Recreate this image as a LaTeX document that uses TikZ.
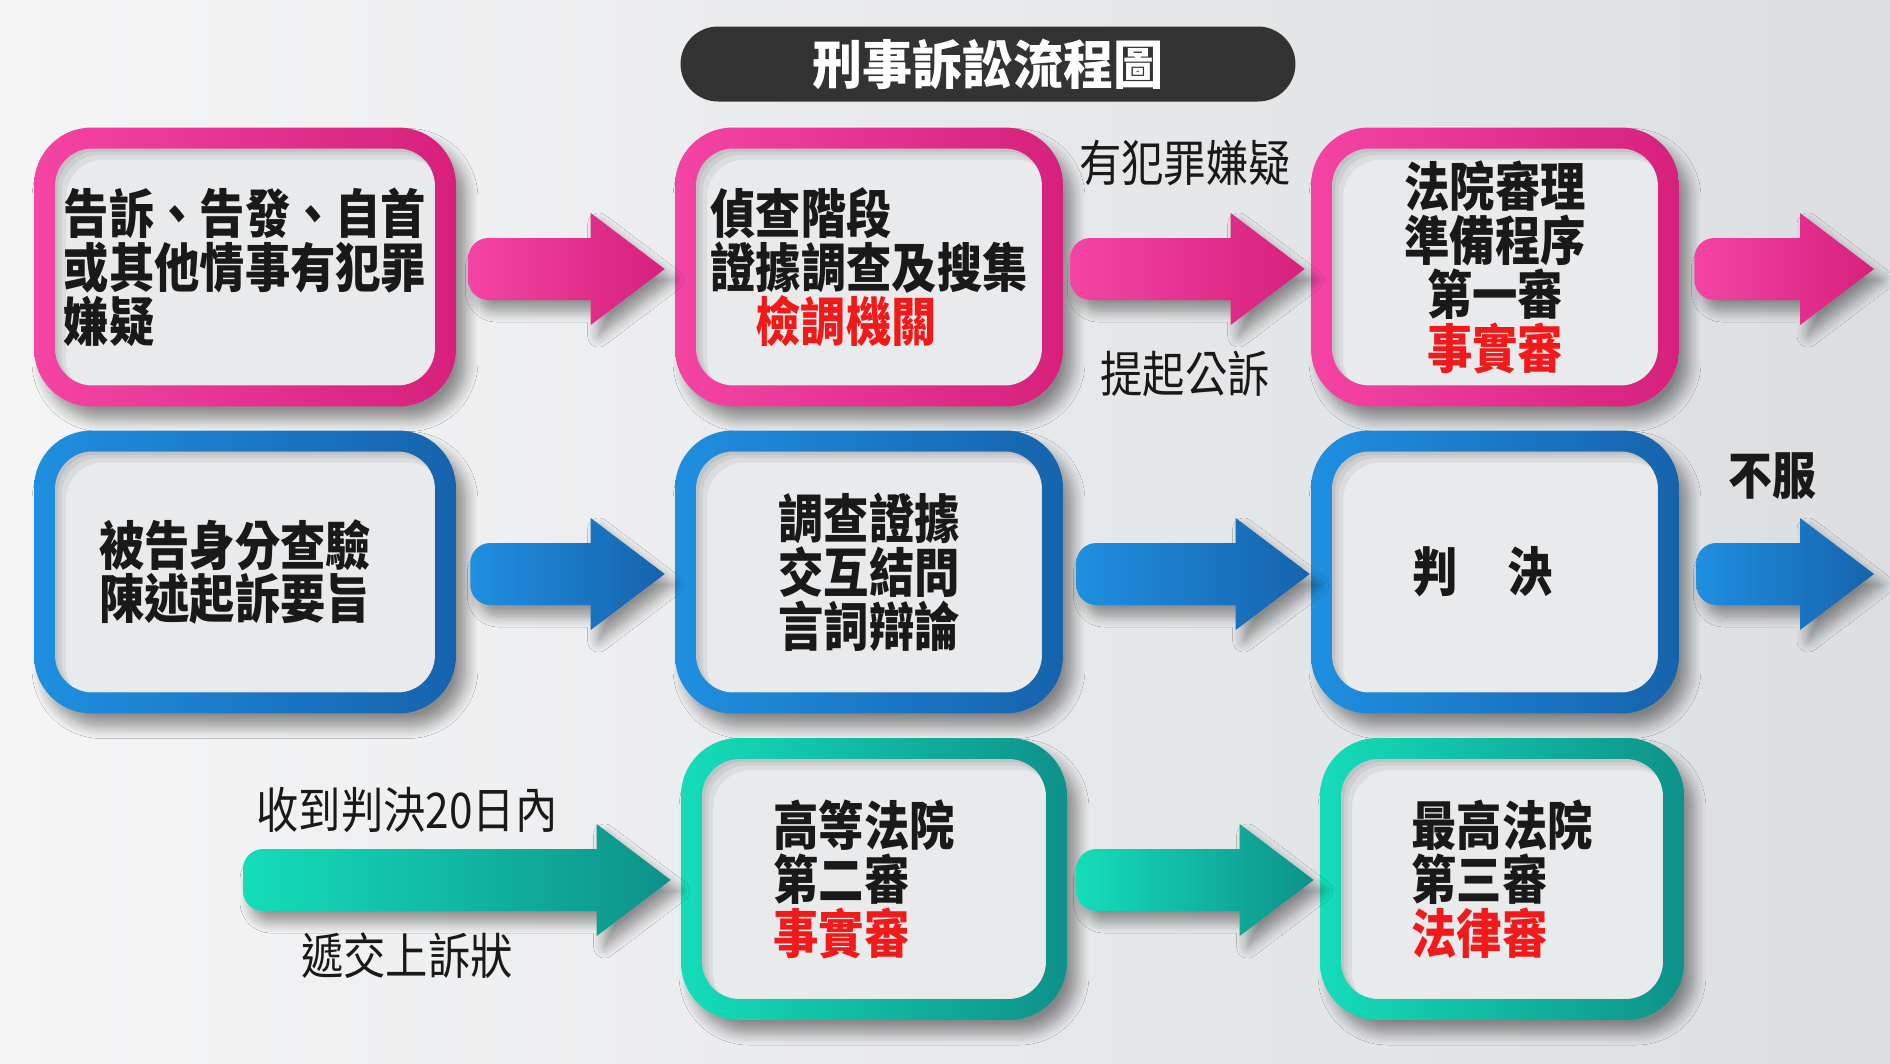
\documentclass[tikz,border=0pt]{standalone}
\usepackage{fontspec}
\newfontfamily\cjk{Noto Sans CJK TC}[FakeStretch=0.86]
\newfontfamily\cjktitle{Noto Sans CJK TC}[FakeStretch=0.95]
\usetikzlibrary{calc,shadows.blur}
\definecolor{bgA}{HTML}{F5F5F6}
\definecolor{bgB}{HTML}{DCDEE0}
\definecolor{pinkL}{HTML}{F444A4}
\definecolor{pinkR}{HTML}{D6207C}
\definecolor{blueL}{HTML}{1F8FE0}
\definecolor{blueR}{HTML}{1663AC}
\definecolor{tealL}{HTML}{14DDB9}
\definecolor{tealR}{HTML}{0E918A}
\definecolor{innerc}{HTML}{E9EAEC}
\definecolor{titlebg}{HTML}{333333}
\definecolor{hl}{HTML}{F01A1A}
\newcommand\blockarrow[4]{%
  \shade[left color=#3, right color=#4, arrowshadow]
    ($(#1)+(0.4cm,0.62cm)$) -- ($(#2)+(-1.48cm,0.62cm)$) -- ($(#2)+(-1.48cm,1.12cm)$)
    -- (#2) -- ($(#2)+(-1.48cm,-1.12cm)$) -- ($(#2)+(-1.48cm,-0.62cm)$)
    -- ($(#1)+(0.4cm,-0.62cm)$) arc[start angle=270, end angle=180, radius=0.4cm]
    -- ($(#1)+(0,0.22cm)$) arc[start angle=180, end angle=90, radius=0.4cm] -- cycle;}
\begin{document}
\begin{tikzpicture}[x=0.02cm,y=-0.02cm,
  arrowshadow/.style={blur shadow={shadow xshift=0.16cm, shadow yshift=-0.22cm, shadow blur radius=0.22cm, shadow blur steps=10, shadow opacity=40}},
  boxbase/.style={rounded corners=1.15cm, inner sep=0pt,
    font=\cjk\bfseries\fontsize{30}{30.7}\selectfont, text=black!90,
    blur shadow={shadow xshift=0.2cm, shadow yshift=-0.26cm, shadow blur radius=0.24cm, shadow blur steps=10, shadow opacity=42},
    path picture={
      \coordinate (ppsw) at ($(path picture bounding box.south west)+(0.42cm,0.42cm)$);
      \coordinate (ppne) at ($(path picture bounding box.north east)+(-0.42cm,-0.42cm)$);
      \fill[innerc, rounded corners=0.75cm] (ppsw) rectangle (ppne);
      \begin{scope}
        \clip[rounded corners=0.75cm] (ppsw) rectangle (ppne);
        \foreach \d in {0.06,0.13,0.22}{
          \fill[black, opacity=0.06, even odd rule, rounded corners=0.75cm]
            (ppsw) rectangle (ppne)
            ($(ppsw)+(\d cm,-\d cm)$) rectangle ($(ppne)+(\d cm,-\d cm)$);}
      \end{scope}}},
  pinkbox/.style={boxbase, left color=pinkL, right color=pinkR},
  bluebox/.style={boxbase, left color=blueL, right color=blueR},
  tealbox/.style={boxbase, left color=tealL, right color=tealR},
  lbl/.style={font=\cjk\fontsize{28}{30}\selectfont, text=black!90, inner sep=0pt},
  lblb/.style={font=\cjk\bfseries\fontsize{29}{30}\selectfont, text=black!90, inner sep=0pt}
]
\useasboundingbox (0,0) rectangle (1890,1063);
\shade[left color=bgA, right color=bgB] (0,0) rectangle (1890,1063);

% title
\node[fill=titlebg, rounded corners=0.75cm, minimum width=12.3cm, minimum height=1.5cm,
  text=white, font=\cjktitle\bfseries\fontsize{30}{30}\selectfont, inner sep=0pt] (title) at (988,64) {刑事訴訟流程圖};

% boxes
\node[pinkbox, minimum width=8.44cm, minimum height=5.58cm, align=left] (b1) at (245,267) {告訴、告發、自首\\或其他情事有犯罪\\嫌疑};
\node[pinkbox, minimum width=7.76cm, minimum height=5.58cm, align=left] (b2) at (869,267) {偵查階段\\證據調查及搜集\\\hspace*{0.9cm}\textcolor{hl}{檢調機關}};
\node[pinkbox, minimum width=7.36cm, minimum height=5.58cm, align=center] (b3) at (1495,267) {法院審理\\準備程序\\第一審\\\textcolor{hl}{事實審}};
\node[bluebox, minimum width=8.44cm, minimum height=5.66cm, align=left] (b4) at (245,572) {被告身分查驗\hspace*{0.4cm}\\陳述起訴要旨};
\node[bluebox, minimum width=7.76cm, minimum height=5.66cm, align=left] (b5) at (869,572) {調查證據\\交互結問\\言詞辯論};
\node[bluebox, minimum width=7.36cm, minimum height=5.66cm] (b6) at (1495,572) {判\hspace{1.0cm}決\hspace*{0.48cm}};
\node[tealbox, minimum width=7.72cm, minimum height=5.64cm, align=left] (b7) at (874,879) {高等法院\hspace*{0.4cm}\\第二審\\\textcolor{hl}{事實審}};
\node[tealbox, minimum width=7.28cm, minimum height=5.64cm, align=left] (b8) at (1502,879) {最高法院\\第三審\\\textcolor{hl}{法律審}};

% arrow end points
\coordinate (a1s) at ($(b1.east)+(12,2)$);  \coordinate (a1e) at ($(b2.west)+(-10,2)$);
\coordinate (a2s) at ($(b2.east)+(7,2)$);   \coordinate (a2e) at ($(b3.west)+(-6,2)$);
\coordinate (a3s) at ($(b3.east)+(15,2)$);  \coordinate (a3e) at (1874,269);
\coordinate (a4s) at ($(b4.east)+(14,2)$);  \coordinate (a4e) at ($(b5.west)+(-10,2)$);
\coordinate (a5s) at ($(b5.east)+(13,2)$);  \coordinate (a5e) at ($(b6.west)+(-1,2)$);
\coordinate (a6s) at ($(b6.east)+(17,2)$);  \coordinate (a6e) at (1874,574);
\coordinate (a7s) at (243,880);             \coordinate (a7e) at ($(b7.west)+(-10,1)$);
\coordinate (a8s) at ($(b7.east)+(9,1)$);   \coordinate (a8e) at ($(b8.west)+(-6,1)$);

\blockarrow{a1s}{a1e}{pinkL}{pinkR}
\blockarrow{a2s}{a2e}{pinkL}{pinkR}
\blockarrow{a3s}{a3e}{pinkL}{pinkR}
\blockarrow{a4s}{a4e}{blueL}{blueR}
\blockarrow{a5s}{a5e}{blueL}{blueR}
\blockarrow{a6s}{a6e}{blueL}{blueR}
\blockarrow{a7s}{a7e}{tealL}{tealR}
\blockarrow{a8s}{a8e}{tealL}{tealR}

% labels
\node[lbl] (l1) at (1185,163) {有犯罪嫌疑};
\node[lbl] (l2) at (1185,374) {提起公訴};
\node[lblb] (l3) at (1772,476) {不服};
\node[lbl] (l4) at (407,810) {收到判決20日內};
\node[lbl] (l5) at (407,956) {遞交上訴狀};
\end{tikzpicture}
\end{document}
